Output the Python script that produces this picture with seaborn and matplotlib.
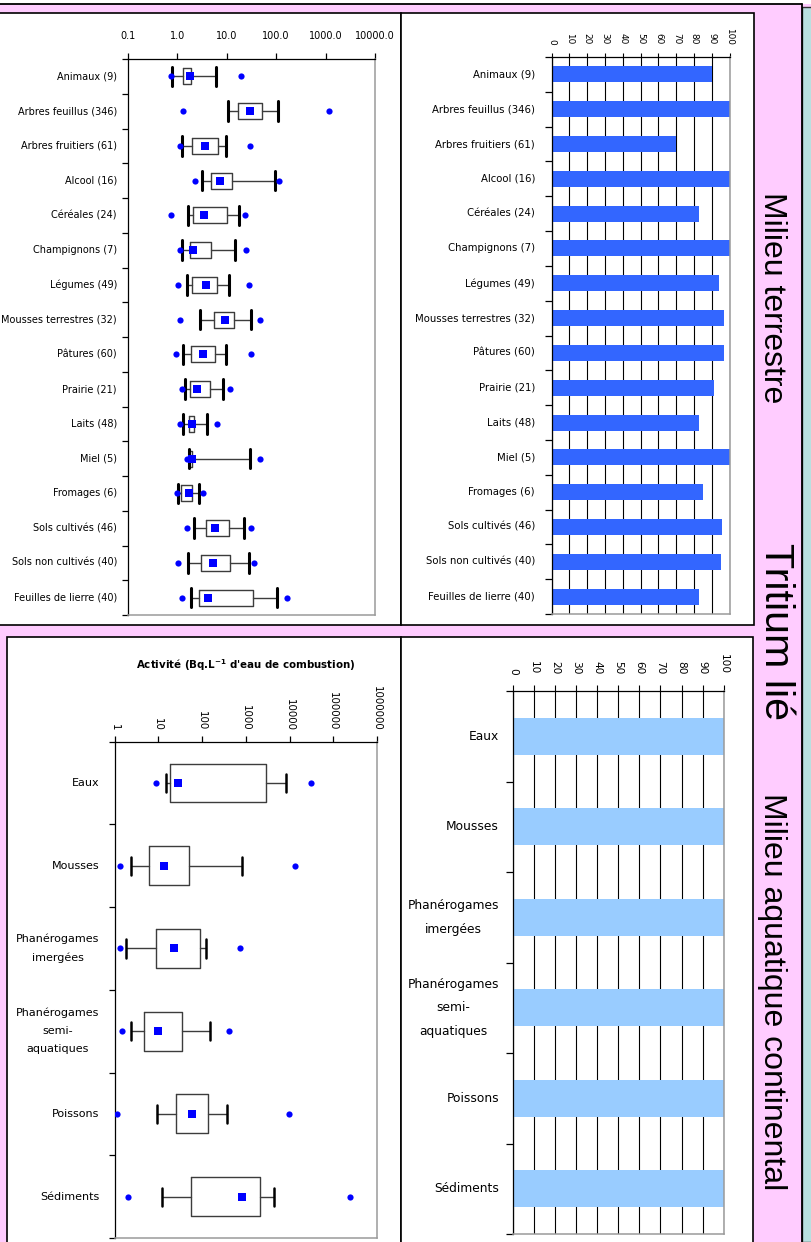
import numpy as np
import pandas as pd
import matplotlib
matplotlib.use("Agg")
import matplotlib.pyplot as plt
import seaborn as sns
from matplotlib.patches import Rectangle
from matplotlib.lines import Line2D
from matplotlib.ticker import NullLocator

# ---------------- data ----------------
terre_labels = ["Animaux (9)", "Arbres feuillus (346)", "Arbres fruitiers (61)", "Alcool (16)",
                "Céréales (24)", "Champignons (7)", "Légumes (49)", "Mousses terrestres (32)",
                "Pâtures (60)", "Prairie (21)", "Laits (48)", "Miel (5)", "Fromages (6)",
                "Sols cultivés (46)", "Sols non cultivés (40)", "Feuilles de lierre (40)"]
terre_min = [0.73, 1.32, 1.11, 2.28, 0.73, 1.13, 1.02, 1.11, 0.92, 1.24, 1.11, 1.55, 1.0, 1.55, 1.02, 1.22]
terre_wlo = [0.79, 10.6, 1.26, 3.16, 1.64, 1.26, 1.55, 2.84, 1.32, 1.41, 1.32, 1.70, 1.02, 2.14, 1.64, 1.86]
terre_q1 = [1.28, 17.0, 2.0, 4.8, 2.08, 1.81, 2.01, 5.5, 1.86, 1.81, 1.70, 1.75, 1.17, 3.87, 3.02, 2.7]
terre_q3 = [1.89, 52.0, 6.7, 12.8, 10.2, 4.8, 6.4, 14.1, 5.8, 4.6, 2.21, 1.98, 1.98, 11.1, 11.7, 34.0]
terre_whi = [6.1, 108.0, 9.7, 95.0, 18.0, 14.8, 11.0, 30.6, 9.7, 8.3, 3.93, 29.0, 2.7, 22.5, 28.0, 103.0]
terre_max = [19.2, 1180.0, 29.0, 115.0, 23.0, 25.0, 28.0, 47.0, 31.0, 11.5, 6.3, 47.0, 3.26, 31.0, 35.0, 162.0]
terre_mean = [1.78, 29.0, 3.6, 7.2, 3.42, 2.11, 3.75, 9.3, 3.26, 2.47, 2.01, 2.01, 1.70, 5.7, 5.2, 4.1]
terre_pct = [90, 100, 70, 100, 83, 100, 94, 97, 97, 91, 83, 100, 85, 95.5, 95, 83]

aqua_labels = ["Eaux", "Mousses", "Phanérogames\nimergées", "Phanérogames\nsemi-\naquatiques",
               "Poissons", "Sédiments"]
aqua_min = [8.8, 1.35, 1.35, 1.5, 1.13, 2.0]
aqua_wlo = [15.2, 2.37, 1.82, 2.4, 9.5, 11.9]
aqua_q1 = [18.8, 6.0, 8.7, 4.8, 25.4, 55.0]
aqua_q3 = [2820.0, 49.5, 90.0, 35.4, 137.0, 2130.0]
aqua_whi = [8400.0, 810.0, 121.0, 152.0, 374.0, 4380.0]
aqua_max = [31300.0, 13500.0, 729.0, 415.0, 9480.0, 236700.0]
aqua_mean = [28.3, 13.5, 23.2, 10.0, 60.0, 824.0]
aqua_pct = [100, 100, 100, 100, 100, 100]

terre_ticks = [0.1, 1, 10, 100, 1000, 10000]
terre_ticklabels = ["0.1", "1.0", "10.0", "100.0", "1000.0", "10000.0"]
aqua_ticks = [1, 10, 100, 1000, 10000, 100000, 1000000]
aqua_ticklabels = ["1", "10", "100", "1000", "10000", "100000", "1000000"]
pct_ticks = list(range(0, 101, 10))

# ---------------- style ----------------
PINK = "#FFCCFF"
TEAL = "#B9E0E0"
BLUE_PT = "#0000FF"
BAR_DARK = "#3366FF"
BAR_LIGHT = "#99CCFF"
GRAY = "#9A9A9A"

sns.set_theme(style="white")
plt.rcParams["font.family"] = ["DejaVu Sans"]

W, H = 812, 1242
fig = plt.figure(figsize=(W / 100, H / 100), dpi=100, facecolor=PINK)


def frac_rect(x0, y0, x1, y1):
    return [x0 / W, 1 - y1 / H, (x1 - x0) / W, (y1 - y0) / H]


def fxy(x, y):
    return (x / W, 1 - y / H)


def panel(x0, y0, x1, y1, lw=1.2):
    fig.add_artist(Rectangle((x0 / W, 1 - y1 / H), (x1 - x0) / W, (y1 - y0) / H,
                             transform=fig.transFigure, facecolor="white",
                             edgecolor="black", linewidth=lw, zorder=-1))


# frame pieces
fig.add_artist(Rectangle((0, 1 - 4 / H), 1, 4 / H, transform=fig.transFigure,
                         facecolor="white", edgecolor="none", zorder=-2))
fig.add_artist(Rectangle((802.5 / W, 0), 12 / W, 1 - 7 / H, transform=fig.transFigure,
                         facecolor=TEAL, edgecolor="#333333", linewidth=1.0, zorder=-1))
fig.add_artist(Line2D([0, 802 / W], [1 - 4 / H] * 2, transform=fig.transFigure,
                      color="black", linewidth=1.3))
fig.add_artist(Line2D([802 / W] * 2, [0, 1 - 4 / H], transform=fig.transFigure,
                      color="black", linewidth=1.3))

panel(-5, 13, 401, 625)
panel(401, 13, 754, 625)
panel(7, 637, 401, 1260)
panel(401, 637, 753, 1260)


def style_axes(ax):
    ax.set_facecolor("white")
    for side in ("left", "top"):
        ax.spines[side].set_color("black")
        ax.spines[side].set_linewidth(0.9)
    for side in ("right", "bottom"):
        ax.spines[side].set_color(GRAY)
        ax.spines[side].set_linewidth(1.1)
    ax.set_xlabel("")
    ax.set_ylabel("")


def cat_axis(ax, labels, pad, size, ticklen, spacing=1.2):
    n = len(labels)
    pos = np.arange(n)
    ax.set_ylim(n - 0.5, -0.5)
    ax.set_yticks(np.arange(n + 1) - 0.5)
    ax.set_yticklabels([])
    ax.set_yticks(pos, minor=True)
    ax.set_yticklabels(labels, minor=True)
    ax.tick_params(axis="y", which="major", left=True, direction="out",
                   length=ticklen, width=0.9, color="black")
    ax.tick_params(axis="y", which="minor", left=True, length=0, pad=pad,
                   labelsize=size, labelcolor="black")
    for t in ax.get_yticklabels(minor=True):
        t.set_multialignment("center")
        t.set_linespacing(spacing)
        t.set_verticalalignment("center")


def box_chart(ax, labels, mins, wlo, q1, q3, whi, maxs, means,
              box_w, cap_w, cap_lw):
    n = len(labels)
    pos = np.arange(n)
    stats = [dict(whislo=a, q1=b, med=b, q3=c, whishi=d, fliers=[])
             for a, b, c, d in zip(wlo, q1, q3, whi)]
    ax.bxp(stats, positions=pos, widths=box_w, capwidths=cap_w,
           orientation="horizontal", showfliers=False, manage_ticks=False,
           boxprops=dict(color="#3c3c3c", linewidth=1.0),
           whiskerprops=dict(color="#3c3c3c", linewidth=1.0),
           capprops=dict(color="black", linewidth=cap_lw),
           medianprops=dict(linewidth=0))
    extremes = pd.DataFrame({"valeur": np.r_[mins, maxs], "rang": np.r_[pos, pos]})
    sns.scatterplot(data=extremes, x="valeur", y="rang", ax=ax, color=BLUE_PT,
                    marker="o", s=20, linewidth=0, zorder=5)
    moyennes = pd.DataFrame({"valeur": means, "rang": pos})
    sns.scatterplot(data=moyennes, x="valeur", y="rang", ax=ax, color=BLUE_PT,
                    marker="s", s=26, linewidth=0, zorder=6)
    ax.set_xscale("log")


# ---------- Milieu terrestre : activities ----------
ax1 = fig.add_axes(frac_rect(128, 59, 375, 615))
box_chart(ax1, terre_labels, terre_min, terre_wlo, terre_q1, terre_q3, terre_whi,
          terre_max, terre_mean, box_w=0.46, cap_w=0.56, cap_lw=2.2)
ax1.set_xlim(0.1, 10000)
ax1.xaxis.tick_top()
ax1.set_xticks(terre_ticks)
ax1.set_xticklabels(terre_ticklabels)
ax1.xaxis.set_minor_locator(NullLocator())
ax1.tick_params(axis="x", which="major", top=True, bottom=False, labeltop=True,
                labelbottom=False, direction="out", length=4, width=0.9,
                pad=9, labelsize=7, color="black", labelcolor="black")
cat_axis(ax1, terre_labels, pad=8, size=7, ticklen=4.5)
style_axes(ax1)

# ---------- Milieu terrestre : percentages ----------
ax2 = fig.add_axes(frac_rect(551.7, 57, 729.7, 614))
sns.barplot(x=terre_pct, y=terre_labels, orient="h", color=BAR_DARK, saturation=1,
            width=0.46, linewidth=0, ax=ax2)
ax2.set_xlim(0, 100)
ax2.xaxis.tick_top()
ax2.set_xticks(pct_ticks)
ax2.set_xticklabels([str(t) for t in pct_ticks], rotation=-90)
ax2.tick_params(axis="x", which="major", top=True, bottom=False, labeltop=True,
                labelbottom=False, direction="out", length=3, width=0.8,
                pad=6, labelsize=6.4, color="black", labelcolor="black")
ax2.xaxis.grid(True, color="black", linewidth=0.8)
ax2.yaxis.grid(False)
ax2.set_axisbelow(True)
cat_axis(ax2, terre_labels, pad=12, size=7.3, ticklen=5)
style_axes(ax2)

# ---------- Milieu aquatique continental : activities ----------
ax3 = fig.add_axes(frac_rect(114.7, 741.7, 377, 1238))
box_chart(ax3, aqua_labels, aqua_min, aqua_wlo, aqua_q1, aqua_q3, aqua_whi,
          aqua_max, aqua_mean, box_w=0.47, cap_w=0.22, cap_lw=1.8)
ax3.set_xlim(1, 1000000)
ax3.xaxis.tick_top()
ax3.set_xticks(aqua_ticks)
ax3.set_xticklabels(aqua_ticklabels, rotation=-90)
ax3.xaxis.set_minor_locator(NullLocator())
ax3.tick_params(axis="x", which="major", top=True, bottom=False, labeltop=True,
                labelbottom=False, direction="out", length=4, width=0.9,
                pad=4, labelsize=7.4, color="black", labelcolor="black")
cat_axis(ax3, aqua_labels, pad=11, size=8, ticklen=4, spacing=2.0)
style_axes(ax3)
fig.text(*fxy(246, 665), "Activité (Bq.L$^{\\mathbf{-1}}$ d'eau de combustion)",
         ha="center", va="center", fontsize=7.4, fontweight="bold", color="black")

# ---------- Milieu aquatique continental : percentages ----------
ax4 = fig.add_axes(frac_rect(513, 691, 723.7, 1234))
sns.barplot(x=aqua_pct, y=aqua_labels, orient="h", color=BAR_LIGHT, saturation=1,
            width=0.41, linewidth=0, ax=ax4)
ax4.set_xlim(0, 100)
ax4.xaxis.tick_top()
ax4.set_xticks(pct_ticks)
ax4.set_xticklabels([str(t) for t in pct_ticks], rotation=-90)
ax4.tick_params(axis="x", which="major", top=True, bottom=False, labeltop=True,
                labelbottom=False, direction="out", length=4, width=0.8,
                pad=8, labelsize=7.6, color="black", labelcolor="black")
ax4.xaxis.grid(True, color="black", linewidth=0.8)
ax4.yaxis.grid(False)
ax4.set_axisbelow(True)
cat_axis(ax4, aqua_labels, pad=10, size=8.8, ticklen=5, spacing=2.05)
style_axes(ax4)

# ---------- side captions ----------
side_font = ["Liberation Sans", "DejaVu Sans"]
fig.text(*fxy(764, 192), "Milieu terrestre", rotation=-90, rotation_mode="anchor",
         ha="left", va="baseline", fontsize=23, family=side_font, color="black")
fig.text(*fxy(765, 543), "Tritium lié", rotation=-90, rotation_mode="anchor",
         ha="left", va="baseline", fontsize=29.7, family=side_font, color="black")
fig.text(*fxy(764, 793), "Milieu aquatique continental", rotation=-90,
         rotation_mode="anchor", ha="left", va="baseline", fontsize=23,
         family=side_font, color="black")

fig.savefig("out.png", dpi=100, facecolor=PINK)
